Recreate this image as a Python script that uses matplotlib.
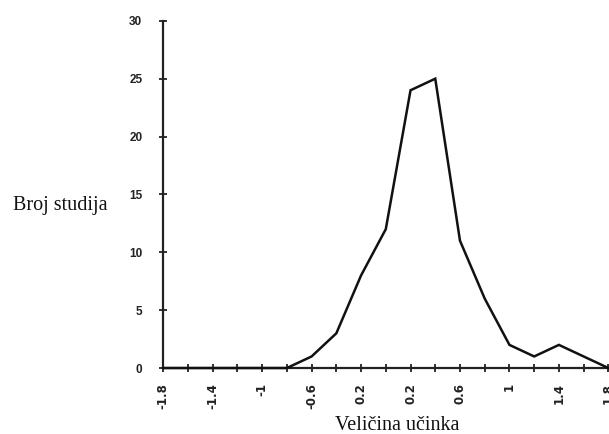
import matplotlib
matplotlib.use("Agg")
import matplotlib.pyplot as plt

effect_size = [-1.8, -1.6, -1.4, -1.2, -1.0, -0.8, -0.6, -0.4, -0.2, 0.0,
               0.2, 0.4, 0.6, 0.8, 1.0, 1.2, 1.4, 1.6, 1.8]
num_studies = [0, 0, 0, 0, 0, 0, 1, 3, 8, 12, 24, 25, 11, 6, 2, 1, 2, 1, 0]

x_tick_pos = [-1.8, -1.4, -1.0, -0.6, -0.2, 0.2, 0.6, 1.0, 1.4, 1.8]
x_tick_labels = ["-1.8", "-1.4", "-1", "-0.6", "0.2", "0.2", "0.6", "1", "1.4", "1.8"]
y_ticks = [0, 5, 10, 15, 20, 25, 30]

fig = plt.figure(figsize=(6.09, 4.34), dpi=100)
ax = fig.add_axes([0.268, 0.152, 0.733, 0.800])

ax.plot(effect_size, num_studies, color="#111111", lw=1.8, solid_joinstyle="miter",
        clip_on=False, zorder=3)

ax.set_xlim(-1.8, 1.81)
ax.set_ylim(0, 30)

for s in ["top", "right"]:
    ax.spines[s].set_visible(False)
for s in ["left", "bottom"]:
    ax.spines[s].set_linewidth(1.6)
    ax.spines[s].set_color("#222222")

ax.set_xticks(x_tick_pos)
ax.set_xticklabels(x_tick_labels, rotation=90, fontsize=8.5, fontweight="bold",
                   family="DejaVu Sans", color="#222222")
ax.set_xticks([-1.6, -1.2, -0.8, -0.4, 0.0, 0.4, 0.8, 1.2, 1.6], minor=True)
ax.set_yticks(y_ticks)
ax.set_yticklabels([str(v) for v in y_ticks], fontsize=8.5, fontweight="bold",
                   family="Liberation Sans", color="#222222")

ax.tick_params(axis="both", which="both", direction="inout", length=6, width=1.3,
               color="#222222")
ax.tick_params(axis="y", pad=12)
ax.tick_params(axis="x", pad=8)

fig.text(0.0985, 0.516, "Broj studija", family="Liberation Serif", fontsize=14.5,
         ha="center", va="baseline", color="#111111")
fig.text(0.652, 0.01, "Veličina učinka", family="Liberation Serif", fontsize=14.5,
         ha="center", va="baseline", color="#111111")

fig.savefig("out.png", dpi=100)
